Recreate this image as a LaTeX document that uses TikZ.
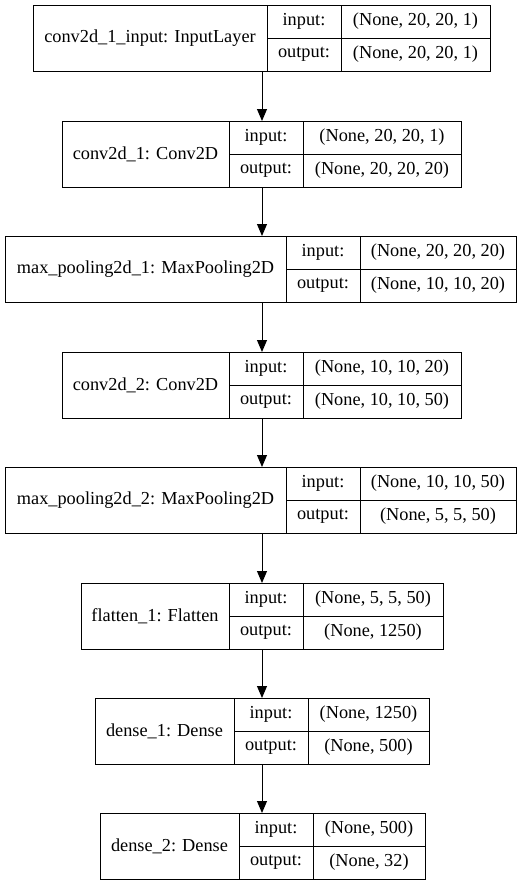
\documentclass[tikz,border=0pt]{standalone}
\usepackage{fontspec}
\setmainfont{Liberation Serif}
\usetikzlibrary{arrows.meta,positioning}
\tikzstyle{signal}=[arrows={-Triangle[length=12pt,width=10pt]},draw=black,line width=1pt]
\tikzstyle{box}=[draw=black,line width=1pt,inner sep=0pt,outer sep=0pt,font=\fontsize{18.3}{22}\selectfont]
\tikzstyle{layerbox}=[box,anchor=north west,minimum height=66pt]
\tikzstyle{portbox}=[box,minimum width=74pt,minimum height=33pt]
\tikzstyle{shapebox}=[box,minimum height=33pt]

\begin{document}
\begin{tikzpicture}[x=1pt,y=-1pt,node distance=0pt]
    \useasboundingbox (0,0) rectangle (525,886);
    \coordinate (axis) at (262,0);

    % conv2d_1_input
    \node[layerbox,minimum width=234pt] (in) at (33,5) {conv2d\_1\_input: InputLayer};
    \node[portbox,anchor=north west] (in-i) at (in.north east) {input:};
    \node[portbox,below=of in-i] (in-o) {output:};
    \node[shapebox,minimum width=149pt,right=of in-i] (in-is) {(None, 20, 20, 1)};
    \node[shapebox,minimum width=149pt,right=of in-o] (in-os) {(None, 20, 20, 1)};

    % conv2d_1
    \node[layerbox,minimum width=167pt] (conv1) at (62,121) {conv2d\_1: Conv2D};
    \node[portbox,anchor=north west] (conv1-i) at (conv1.north east) {input:};
    \node[portbox,below=of conv1-i] (conv1-o) {output:};
    \node[shapebox,minimum width=158pt,right=of conv1-i] (conv1-is) {(None, 20, 20, 1)};
    \node[shapebox,minimum width=158pt,right=of conv1-o] (conv1-os) {(None, 20, 20, 20)};

    % max_pooling2d_1
    \node[layerbox,minimum width=281pt] (pool1) at (5,236) {max\_pooling2d\_1: MaxPooling2D};
    \node[portbox,anchor=north west] (pool1-i) at (pool1.north east) {input:};
    \node[portbox,below=of pool1-i] (pool1-o) {output:};
    \node[shapebox,minimum width=156pt,right=of pool1-i] (pool1-is) {(None, 20, 20, 20)};
    \node[shapebox,minimum width=156pt,right=of pool1-o] (pool1-os) {(None, 10, 10, 20)};

    % conv2d_2
    \node[layerbox,minimum width=167pt] (conv2) at (62,352) {conv2d\_2: Conv2D};
    \node[portbox,anchor=north west] (conv2-i) at (conv2.north east) {input:};
    \node[portbox,below=of conv2-i] (conv2-o) {output:};
    \node[shapebox,minimum width=158pt,right=of conv2-i] (conv2-is) {(None, 10, 10, 20)};
    \node[shapebox,minimum width=158pt,right=of conv2-o] (conv2-os) {(None, 10, 10, 50)};

    % max_pooling2d_2
    \node[layerbox,minimum width=281pt] (pool2) at (5,467) {max\_pooling2d\_2: MaxPooling2D};
    \node[portbox,anchor=north west] (pool2-i) at (pool2.north east) {input:};
    \node[portbox,below=of pool2-i] (pool2-o) {output:};
    \node[shapebox,minimum width=156pt,right=of pool2-i] (pool2-is) {(None, 10, 10, 50)};
    \node[shapebox,minimum width=156pt,right=of pool2-o] (pool2-os) {(None, 5, 5, 50)};

    % flatten_1
    \node[layerbox,minimum width=148pt] (flat) at (81,583) {flatten\_1: Flatten};
    \node[portbox,anchor=north west] (flat-i) at (flat.north east) {input:};
    \node[portbox,below=of flat-i] (flat-o) {output:};
    \node[shapebox,minimum width=140pt,right=of flat-i] (flat-is) {(None, 5, 5, 50)};
    \node[shapebox,minimum width=140pt,right=of flat-o] (flat-os) {(None, 1250)};

    % dense_1
    \node[layerbox,minimum width=139pt] (dense1) at (95,698) {dense\_1: Dense};
    \node[portbox,anchor=north west] (dense1-i) at (dense1.north east) {input:};
    \node[portbox,below=of dense1-i] (dense1-o) {output:};
    \node[shapebox,minimum width=121pt,right=of dense1-i] (dense1-is) {(None, 1250)};
    \node[shapebox,minimum width=121pt,right=of dense1-o] (dense1-os) {(None, 500)};

    % dense_2
    \node[layerbox,minimum width=139pt] (dense2) at (100,813) {dense\_2: Dense};
    \node[portbox,anchor=north west] (dense2-i) at (dense2.north east) {input:};
    \node[portbox,below=of dense2-i] (dense2-o) {output:};
    \node[shapebox,minimum width=112pt,right=of dense2-i] (dense2-is) {(None, 500)};
    \node[shapebox,minimum width=112pt,right=of dense2-o] (dense2-os) {(None, 32)};

    \draw[signal] (in.south -| axis) -- (conv1.north -| axis);
    \draw[signal] (conv1.south -| axis) -- (pool1.north -| axis);
    \draw[signal] (pool1.south -| axis) -- (conv2.north -| axis);
    \draw[signal] (conv2.south -| axis) -- (pool2.north -| axis);
    \draw[signal] (pool2.south -| axis) -- (flat.north -| axis);
    \draw[signal] (flat.south -| axis) -- (dense1.north -| axis);
    \draw[signal] (dense1.south -| axis) -- (dense2.north -| axis);
\end{tikzpicture}
\end{document}
